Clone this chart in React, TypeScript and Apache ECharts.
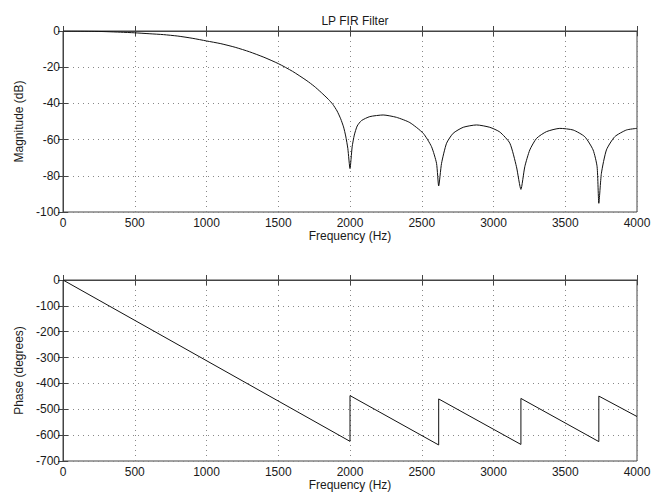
import React, { useEffect, useRef } from "react";
import * as echarts from "echarts";

const magFreq = [0, 100, 200, 300, 400, 500, 600, 700, 800, 900, 1000, 1100, 1200, 1300, 1400, 1500, 1600, 1700, 1750, 1800, 1850, 1880, 1910, 1935, 1955, 1970, 1985, 2000, 2015, 2030, 2050, 2080, 2138, 2231, 2324, 2417, 2510, 2568, 2603, 2618, 2638, 2673, 2719, 2789, 2882, 2974, 3044, 3114, 3160, 3191, 3218, 3253, 3300, 3369, 3462, 3555, 3636, 3694, 3722, 3734, 3752, 3787, 3845, 3926, 4000];
const magDb = [0, -0.04, -0.15, -0.35, -0.65, -1.0, -1.5, -2.0, -2.8, -4.0, -5.5, -7.0, -9.0, -11.5, -14.5, -18, -22.3, -27.5, -30.5, -34, -37.8, -40.5, -44.2, -48.5, -53, -58, -65, -76, -64, -57.5, -52.5, -49.5, -47.3, -46.4, -47.7, -50.6, -56.5, -63.9, -73.1, -85.6, -73.1, -62, -56.5, -53.2, -51.9, -53.2, -55.8, -62, -75, -87.5, -75, -65.7, -59.3, -55.6, -53.8, -54.7, -58.4, -65.7, -75, -95.2, -78.6, -65.7, -58.4, -54.7, -53.8];

const phaseFreq = [0, 2000, 2000, 2618, 2618, 3191, 3191, 3734, 3734, 4000];
const phaseDeg = [0, -624, -447, -638, -460, -636, -458, -625, -449, -528];

const xTicks = [0, 500, 1000, 1500, 2000, 2500, 3000, 3500, 4000];
const magTicks = [0, -20, -40, -60, -80, -100];
const phaseTicks = [0, -100, -200, -300, -400, -500, -600, -700];

const FONT = "Liberation Sans, Arial, sans-serif";
const TEXT = "#1a1a1a";
const AXIS = "#444";

export default function App() {
  const ref = useRef<HTMLDivElement>(null);
  useEffect(() => {
    if (!ref.current) return;
    const chart = echarts.init(ref.current, undefined, { renderer: "svg" });
    const grids = [
      { left: 63, right: 25, top: 31, height: 181 },
      { left: 63, right: 25, top: 280, height: 181 },
    ].map((g) => ({ ...g, show: true, borderColor: AXIS, borderWidth: 1, backgroundColor: "transparent", containLabel: false }));

    const xBase = (gi: number, pos: "bottom" | "top", labels: boolean) => ({
      type: "value",
      gridIndex: gi,
      position: pos,
      min: xTicks[0],
      max: xTicks[xTicks.length - 1],
      interval: 500,
      axisLine: { show: true, lineStyle: { color: AXIS, width: 1 } },
      axisTick: { show: true, inside: true, length: 5, lineStyle: { color: AXIS } },
      axisLabel: { show: labels, color: TEXT, fontSize: 12, fontFamily: FONT, margin: 5, formatter: (v: number) => String(v) },
      splitLine: { show: labels, lineStyle: { color: "#888", type: [1, 4], width: 1 } },
      name: labels ? "Frequency (Hz)" : "",
      nameLocation: "middle",
      nameGap: 18,
      nameTextStyle: { color: TEXT, fontSize: 12, fontFamily: FONT },
    });
    const yBase = (gi: number, pos: "left" | "right", labels: boolean, ticks: number[], interval: number, name: string) => ({
      type: "value",
      gridIndex: gi,
      position: pos,
      min: ticks[ticks.length - 1],
      max: ticks[0],
      interval,
      axisLine: { show: true, lineStyle: { color: AXIS, width: 1 } },
      axisTick: { show: true, inside: true, length: 5, lineStyle: { color: AXIS } },
      axisLabel: { show: labels, color: TEXT, fontSize: 12, fontFamily: FONT, margin: 3, formatter: (v: number) => String(v) },
      splitLine: { show: labels, lineStyle: { color: "#888", type: [1, 4], width: 1 } },
      name: labels ? name : "",
      nameLocation: "middle",
      nameGap: 35,
      nameTextStyle: { color: TEXT, fontSize: 12, fontFamily: FONT },
    });

    chart.setOption({
      animation: false,
      backgroundColor: "#fff",
      title: {
        text: "LP FIR Filter",
        left: 350,
        textAlign: "center",
        top: 10,
        textStyle: { color: TEXT, fontSize: 12, fontWeight: "normal", fontFamily: FONT },
      },
      grid: grids,
      xAxis: [
        xBase(0, "bottom", true),
        xBase(0, "top", false),
        xBase(1, "bottom", true),
        xBase(1, "top", false),
      ],
      yAxis: [
        yBase(0, "left", true, magTicks, 20, "Magnitude (dB)"),
        yBase(0, "right", false, magTicks, 20, ""),
        yBase(1, "left", true, phaseTicks, 100, "Phase (degrees)"),
        yBase(1, "right", false, phaseTicks, 100, ""),
      ],
      series: [
        {
          type: "line",
          xAxisIndex: 0,
          yAxisIndex: 0,
          data: magFreq.map((f, i) => [f, magDb[i]]),
          showSymbol: false,
          smooth: 0.2,
          lineStyle: { color: "#111", width: 1 },
        },
        {
          type: "line",
          xAxisIndex: 2,
          yAxisIndex: 2,
          data: phaseFreq.map((f, i) => [f, phaseDeg[i]]),
          showSymbol: false,
          lineStyle: { color: "#111", width: 1 },
        },
      ],
    });
    return () => chart.dispose();
  }, []);
  return <div ref={ref} style={{ position: "absolute", left: 0, top: 0, width: 662, height: 496 }} />;
}
